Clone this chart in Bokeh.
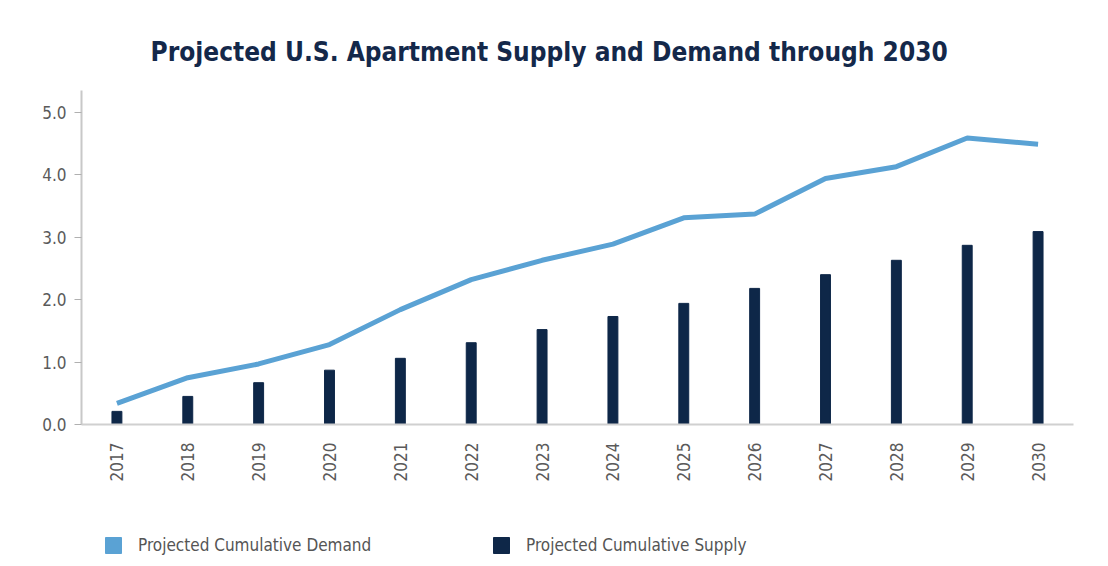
import math
from bokeh.plotting import figure
from bokeh.layouts import column
from bokeh.models import (ColumnDataSource, FactorRange, Range1d, Legend, LegendItem,
                          FixedTicker, CustomJSTickFormatter)
from bokeh.embed import file_html
from bokeh.resources import INLINE

years = ["2017", "2018", "2019", "2020", "2021", "2022", "2023",
         "2024", "2025", "2026", "2027", "2028", "2029", "2030"]
demand = [0.34, 0.75, 0.97, 1.28, 1.84, 2.32, 2.63, 2.89, 3.31, 3.37, 3.94, 4.13, 4.59, 4.49]
supply = [0.21, 0.45, 0.67, 0.87, 1.06, 1.31, 1.52, 1.73, 1.94, 2.18, 2.40, 2.63, 2.87, 3.09]
y_ticks = [0.0, 1.0, 2.0, 3.0, 4.0, 5.0]
series_labels = ["Projected Cumulative Demand", "Projected Cumulative Supply"]

FONT = "DejaVu Sans Condensed"
NAVY = "#0e2748"
BLUE = "#5aa2d4"

src = ColumnDataSource(dict(year=years, demand=demand, supply=supply))

p = figure(frame_width=992, frame_height=334, x_range=FactorRange(*years, range_padding=0),
           y_range=Range1d(0, 5.35), output_backend="svg", toolbar_location=None,
           min_border_left=81, min_border_right=19, min_border_top=90, min_border_bottom=80)

p.title.text = "Projected U.S. Apartment Supply and Demand through 2030"
p.title.align = "left"
p.title.offset = 69
p.title.text_font = FONT
p.title.text_font_size = "26px"
p.title.text_font_style = "bold"
p.title.text_color = "#14284a"
p.title.standoff = 47

bars = p.vbar(x="year", top="supply", width=0.14, source=src, color=NAVY)
line = p.line(x="year", y="demand", source=src, line_color=BLUE, line_width=5)

p.grid.visible = False
p.outline_line_color = None

p.yaxis.ticker = FixedTicker(ticks=y_ticks)
p.yaxis.formatter = CustomJSTickFormatter(code="return tick.toFixed(1);")
p.yaxis.axis_line_color = "#c8c8c8"
p.yaxis.axis_line_width = 2
p.yaxis.major_tick_line_color = "#b0b0b0"
p.yaxis.major_tick_out = 7
p.yaxis.major_tick_in = 0
p.yaxis.minor_tick_line_color = None
p.yaxis.major_label_text_font = FONT
p.yaxis.major_label_text_font_size = "17px"
p.yaxis.major_label_text_color = "#5a5a5a"
p.yaxis.major_label_standoff = 8

p.xaxis.axis_line_color = "#d0d0d0"
p.xaxis.axis_line_width = 2
p.xaxis.major_tick_line_color = None
p.xaxis.minor_tick_line_color = None
p.xaxis.major_label_orientation = math.pi / 2
p.xaxis.major_label_text_font = FONT
p.xaxis.major_label_text_font_size = "17px"
p.xaxis.major_label_text_color = "#5a5a5a"
p.xaxis.major_label_standoff = 12

# legend strip below the chart
lf = figure(width=1092, height=62, x_range=Range1d(0, 1), y_range=Range1d(0, 1),
            output_backend="svg", toolbar_location=None,
            x_axis_location=None, y_axis_location=None,
            min_border_left=0, min_border_right=0, min_border_top=0, min_border_bottom=0)
lf.grid.visible = False
lf.outline_line_color = None
# off-screen swatch renderers (only used for the legend squares)
dummy_src = ColumnDataSource(dict(x=[-5.0], top=[-1.0]))
d_dem = lf.vbar(x="x", top="top", width=0.1, source=dummy_src, color=BLUE)
d_sup = lf.vbar(x="x", top="top", width=0.1, source=dummy_src, color=NAVY)

legend = Legend(items=[LegendItem(label=series_labels[0], renderers=[d_dem]),
                       LegendItem(label=series_labels[1], renderers=[d_sup])],
                orientation="horizontal", location=(22, 11))
legend.glyph_width = 20
legend.glyph_height = 20
legend.label_standoff = 15
legend.label_width = 341
legend.spacing = 12
legend.label_text_font = FONT
legend.label_text_font_size = "17px"
legend.label_text_color = "#555555"
legend.border_line_color = None
legend.background_fill_alpha = 0
legend.margin = 0
legend.padding = 0
legend.label_height = 20
lf.add_layout(legend, "center")

open("out.html", "w").write(file_html(column(p, lf), INLINE))
